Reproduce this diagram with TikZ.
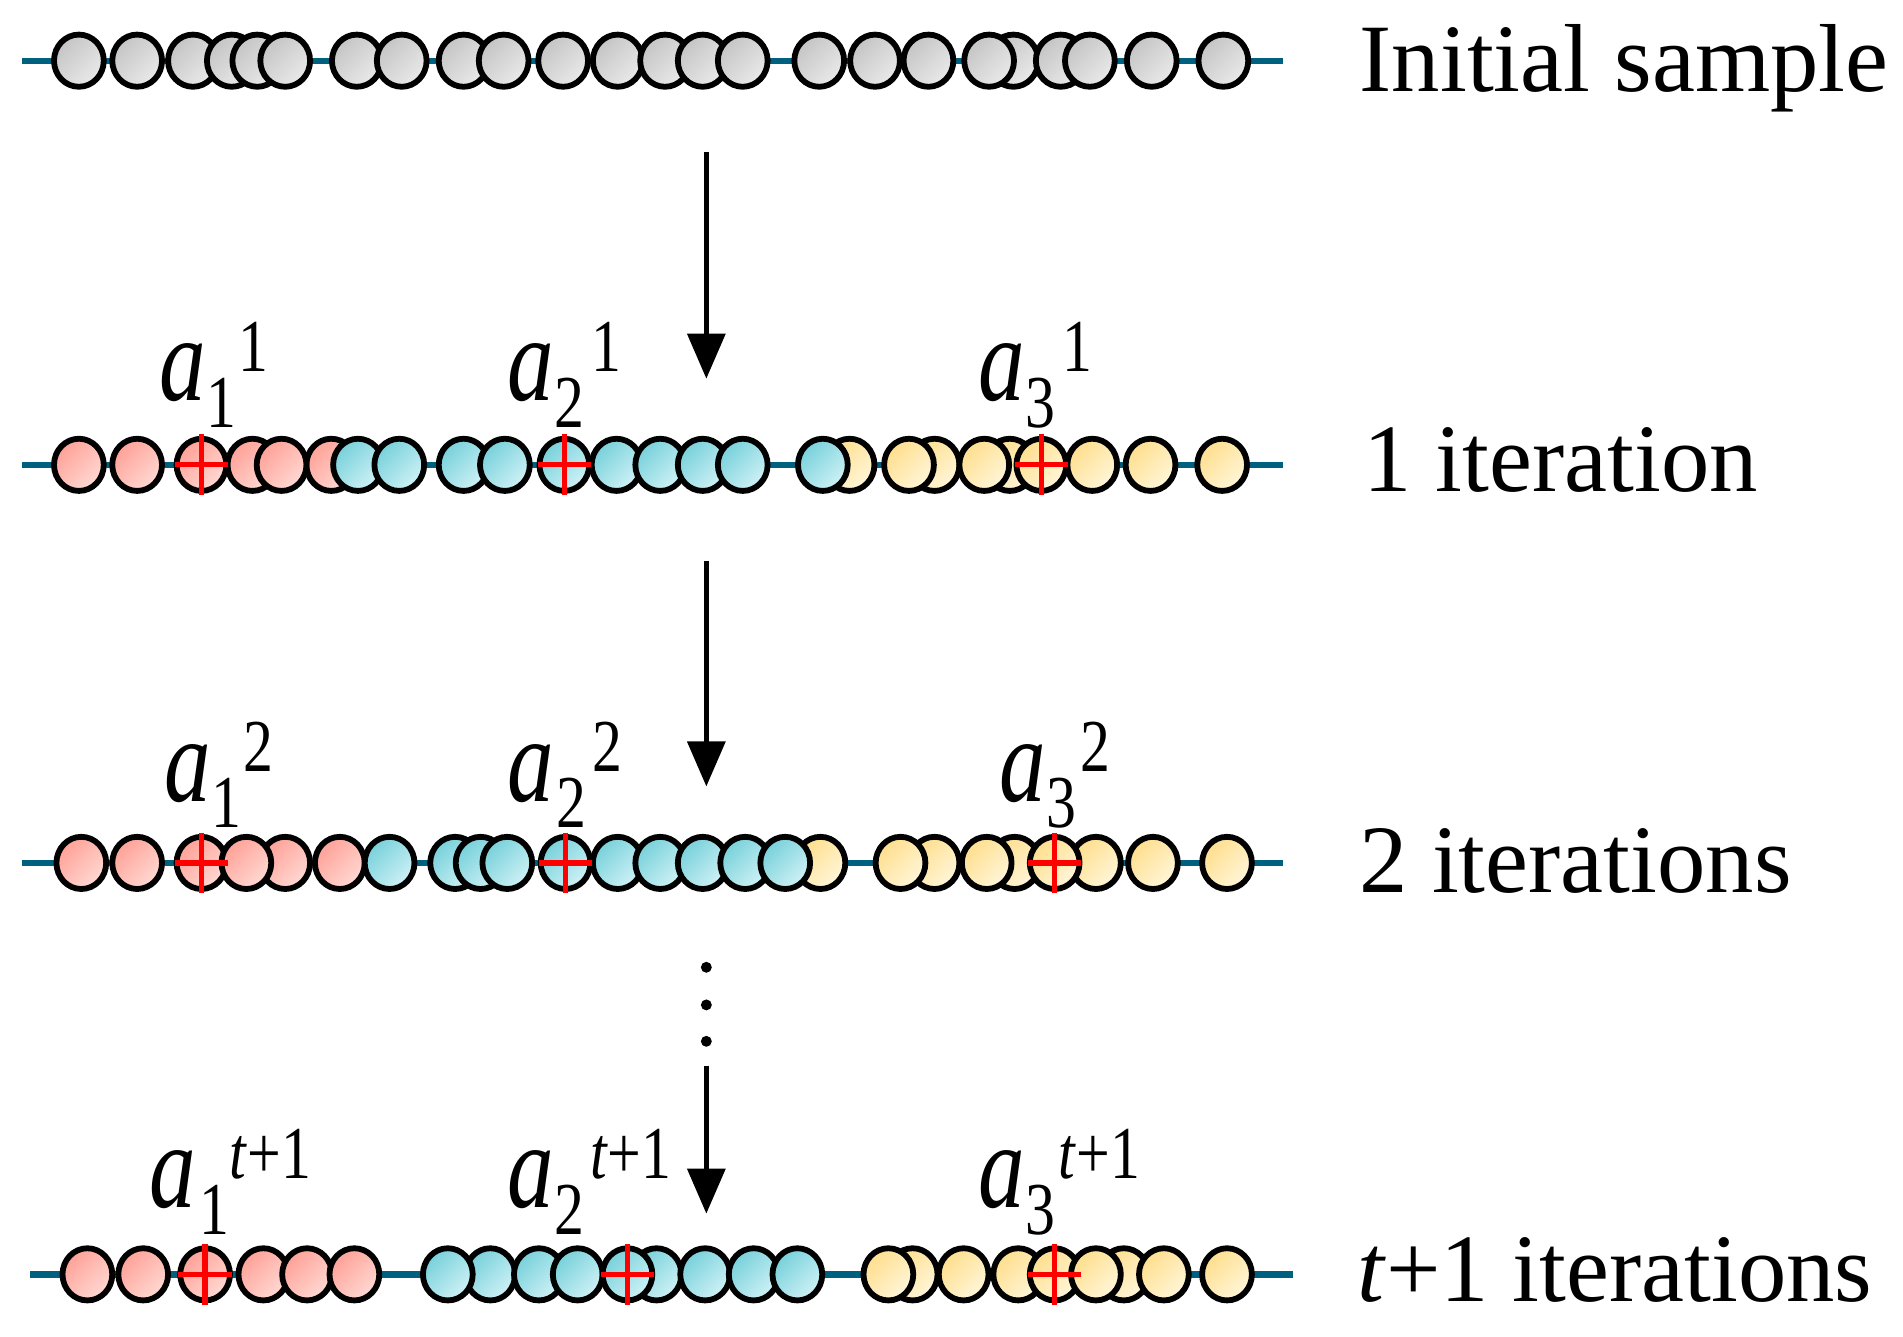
\documentclass[tikz,border=0pt]{standalone}
\usepackage{fontspec}
\setmainfont{Liberation Serif}
\usetikzlibrary{arrows.meta}
\definecolor{axisblue}{RGB}{0,96,128}
\definecolor{gA}{RGB}{196,196,196}
\definecolor{gB}{RGB}{234,234,234}
\definecolor{pA}{RGB}{255,160,150}
\definecolor{pB}{RGB}{255,218,212}
\definecolor{cA}{RGB}{118,208,218}
\definecolor{cB}{RGB}{208,242,246}
\definecolor{yA}{RGB}{255,222,140}
\definecolor{yB}{RGB}{255,246,218}
\tikzset{
 ball/.style={draw=black, line width=3.3pt},
 gry/.style={ball, top color=gA, bottom color=gB, shading angle=45},
 pnk/.style={ball, top color=pA, bottom color=pB, shading angle=45},
 cyn/.style={ball, top color=cA, bottom color=cB, shading angle=45},
 ylw/.style={ball, top color=yA, bottom color=yB, shading angle=45},
 crossline/.style={red, line width=3pt},
 axisline/.style={axisblue, line width=3.6pt},
 arr/.style={line width=2.8pt, -{Triangle[width=0.75cm,length=0.9cm]}},
 rtext/.style={anchor=base west, inner sep=0pt, font=\fontsize{55}{60}\selectfont},
 labA/.style={anchor=base west, inner sep=0pt, font=\fontsize{53}{60}\selectfont\itshape},
 labS/.style={anchor=base west, inner sep=0pt, font=\fontsize{34}{40}\selectfont},
}
\newcommand\ballrow[3]{\foreach \bx in {#3}{\path[#1] (\bx,#2) ellipse [x radius=20.5, y radius=21.5];}}
\newcommand\rcross[2]{\draw[crossline] ({#1-22},#2) -- ({#1+22},#2) ({#1},{#2-25}) -- ({#1},{#2+25});}
\newcommand\alab[7]{%
 \node[labA] (#1a) at (#2,#3) {\scalebox{1}[1.3]{a}};
 \node[labS] (#1s) at (#5,{#3+22}) {\scalebox{1}[1.25]{#4}};
 \node[labS] (#1p) at (#7,{#3-24}) {\scalebox{1}[1.25]{#6}};}
\begin{document}
\begin{tikzpicture}[x=0.024272cm, y=-0.024272cm]
\useasboundingbox (0,0) rectangle (1568,1101);
% axis lines
\coordinate (r1L) at (18,50);   \coordinate (r1R) at (1057,50);
\coordinate (r2L) at (18,383);  \coordinate (r2R) at (1057,383);
\coordinate (r3L) at (18,711);  \coordinate (r3R) at (1057,711);
\coordinate (r4L) at (25,1050); \coordinate (r4R) at (1065,1050);
\draw[axisline] (r1L) -- (r1R);
\draw[axisline] (r2L) -- (r2R);
\draw[axisline] (r3L) -- (r3R);
\draw[axisline] (r4L) -- (r4R);
% row 1
\ballrow{gry}{50}{65,113,159,191,212,235,294,331,382,415,464,509,548,579,612,675,721,765,835,815,874,898,949,1008}
% row 2
\ballrow{pnk}{383}{208,273}
\ballrow{cyn}{383}{382}
\ballrow{ylw}{383}{700,770,832}
\ballrow{pnk}{383}{65,113,166,232}
\ballrow{cyn}{383}{295,329,416,465,508,544,579,612,678}
\ballrow{ylw}{383}{749,811,858,900,948,1007}
\rcross{166}{383}\rcross{465}{383}\rcross{858}{383}
% row 3
\ballrow{pnk}{711}{235}
\ballrow{cyn}{711}{375,396}
\ballrow{ylw}{711}{676,770,836,903}
\ballrow{pnk}{711}{67,113,166,203,280}
\ballrow{cyn}{711}{321,418,466,509,544,579,614,647}
\ballrow{ylw}{711}{742,813,869,950,1011}
\rcross{166}{711}\rcross{466}{711}\rcross{869}{711}
% row 4
\ballrow{pnk}{1050}{72,118,169,217,253,292}
\ballrow{cyn}{1050}{404,369,444,476,541,517,581,621,657}
\ballrow{ylw}{1050}{752,732,794,839,869,926,903,959,1011}
\rcross{169}{1050}\rcross{517}{1050}\rcross{869}{1050}
% arrows
\coordinate (A1s) at (582,125); \coordinate (A1e) at (582,312);
\coordinate (A2s) at (582,462); \coordinate (A2e) at (582,648);
\coordinate (A3s) at (582,878); \coordinate (A3e) at (582,1000);
\draw[arr] (A1s) -- (A1e);
\draw[arr] (A2s) -- (A2e);
\draw[arr] (A3s) -- (A3e);
\fill (582,797) circle [radius=4.5];
\fill (582,828) circle [radius=4.5];
\fill (582,858) circle [radius=4.5];
% labels
\alab{L11}{131}{330}{1}{170}{1}{196}
\alab{L21}{418}{330}{2}{457}{1}{487}
\alab{L31}{806}{330}{3}{845}{1}{875}
\alab{L12}{135}{660}{1}{174}{2}{200}
\alab{L22}{418}{660}{2}{458}{2}{488}
\alab{L32}{823}{660}{3}{862}{2}{890}
\alab{L1t}{123}{995}{1}{164}{\textit{t}+1}{189}
\alab{L2t}{418}{995}{2}{457}{\textit{t}+1}{486}
\alab{L3t}{806}{995}{3}{845}{\textit{t}+1}{872}
% right texts
\node[rtext] (T1) at (1120,75) {Initial sample};
\node[rtext] (T2) at (1123,405) {1 iteration};
\node[rtext] (T3) at (1120,735) {2 iterations};
\node[rtext] (T4) at (1118,1072) {\textit{t}+1 iterations};
\end{tikzpicture}
\end{document}
